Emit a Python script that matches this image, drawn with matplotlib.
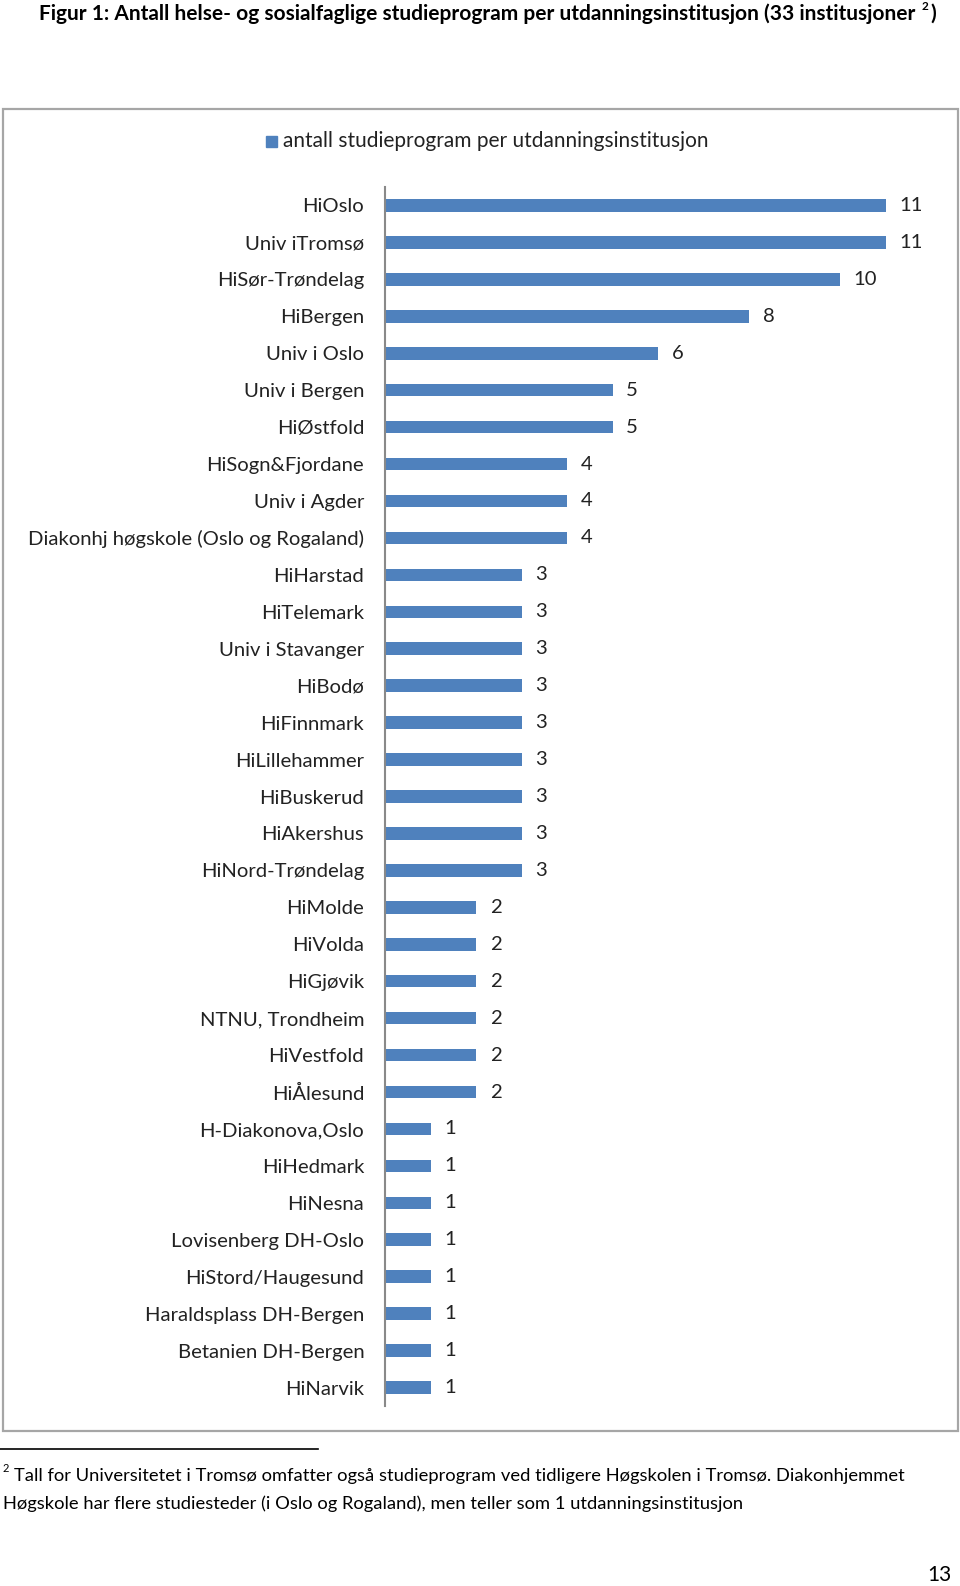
import matplotlib
matplotlib.use("Agg")
import matplotlib.pyplot as plt
from matplotlib.patches import Rectangle
from matplotlib.lines import Line2D

institutions = [
    "HiOslo", "Univ iTromsø", "HiSør-Trøndelag", "HiBergen", "Univ i Oslo",
    "Univ i Bergen", "HiØstfold", "HiSogn&Fjordane", "Univ i Agder",
    "Diakonhj høgskole (Oslo og Rogaland)", "HiHarstad", "HiTelemark",
    "Univ i Stavanger", "HiBodø", "HiFinnmark", "HiLillehammer", "HiBuskerud",
    "HiAkershus", "HiNord-Trøndelag", "HiMolde", "HiVolda", "HiGjøvik",
    "NTNU, Trondheim", "HiVestfold", "HiÅlesund", "H-Diakonova,Oslo",
    "HiHedmark", "HiNesna", "Lovisenberg DH-Oslo", "HiStord/Haugesund",
    "Haraldsplass DH-Bergen", "Betanien DH-Bergen", "HiNarvik",
]
programs = [11, 11, 10, 8, 6, 5, 5, 4, 4, 4, 3, 3, 3, 3, 3, 3, 3, 3, 3,
            2, 2, 2, 2, 2, 2, 1, 1, 1, 1, 1, 1, 1, 1]
series_name = "antall studieprogram per utdanningsinstitusjon"

W, H = 960, 1586
FONT = ["Lato", "DejaVu Sans"]
plt.rcParams["font.family"] = FONT
BLUE = "#4F81BD"
GRAY = "#898989"

fig = plt.figure(figsize=(W / 100, H / 100), dpi=100)

def fx(x):
    return x / W

def fy(y):
    return 1 - y / H

# chart box
fig.patches.append(Rectangle((fx(3), fy(1431)), fx(958) - fx(3), fy(109) - fy(1431),
                             transform=fig.transFigure, fill=False,
                             edgecolor="#A6A6A6", linewidth=1.6))

ax_l, ax_r, ax_t, ax_b = 385, 931, 187, 1406
ax = fig.add_axes([fx(ax_l), fy(ax_b), fx(ax_r) - fx(ax_l), fy(ax_t) - fy(ax_b)])
ypos = list(range(len(institutions)))
ax.barh(ypos, programs, height=0.34, color=BLUE)
ax.set_ylim(len(institutions) - 0.5, -0.5)
ax.set_xlim(0, 12)
ax.set_yticks(ypos)
ax.set_yticklabels(institutions, fontsize=14.6, color="#222222")
ax.tick_params(axis="y", length=0, pad=15)
ax.set_xticks([])
for s in ["top", "right", "bottom"]:
    ax.spines[s].set_visible(False)
ax.spines["left"].set_color(GRAY)
ax.spines["left"].set_linewidth(1.5)
ax.patch.set_alpha(0)
for y, v in zip(ypos, programs):
    ax.text(v + 0.3, y, str(v), va="center", ha="left", fontsize=14.6, color="#222222")

# legend
fig.patches.append(Rectangle((fx(266), fy(147)), fx(11), 11 / H,
                             transform=fig.transFigure, color=BLUE))
fig.text(fx(283), fy(141), series_name, fontsize=15, va="center", ha="left",
         color="#222222")

# title
t = fig.text(fx(39), fy(14), "Figur 1: Antall helse- og sosialfaglige studieprogram per utdanningsinstitusjon (33 institusjoner",
             fontsize=15, fontweight="bold", va="center", ha="left")
renderer = fig.canvas.get_renderer()
bb = t.get_window_extent(renderer)
xend = bb.x1 / W
fig.text(xend + 6 / W, fy(7), "2", fontsize=8.5, fontweight="bold", va="center", ha="left")
fig.text(xend + 15 / W, fy(14), ")", fontsize=15, fontweight="bold", va="center", ha="left")

# footnote
fig.add_artist(Line2D([fx(0), fx(318)], [fy(1449), fy(1449)], color="black", linewidth=1.2))
fig.text(fx(3), fy(1469), "2", fontsize=8, va="center", ha="left")
fig.text(fx(14), fy(1476), "Tall for Universitetet i Tromsø omfatter også studieprogram ved tidligere Høgskolen i Tromsø. Diakonhjemmet",
         fontsize=13.25, va="center", ha="left")
fig.text(fx(3), fy(1504), "Høgskole har flere studiesteder (i Oslo og Rogaland), men teller som 1 utdanningsinstitusjon",
         fontsize=13.25, va="center", ha="left")
fig.text(fx(952), fy(1575), "13", fontsize=15, va="center", ha="right")

fig.savefig("out.png", dpi=100)
